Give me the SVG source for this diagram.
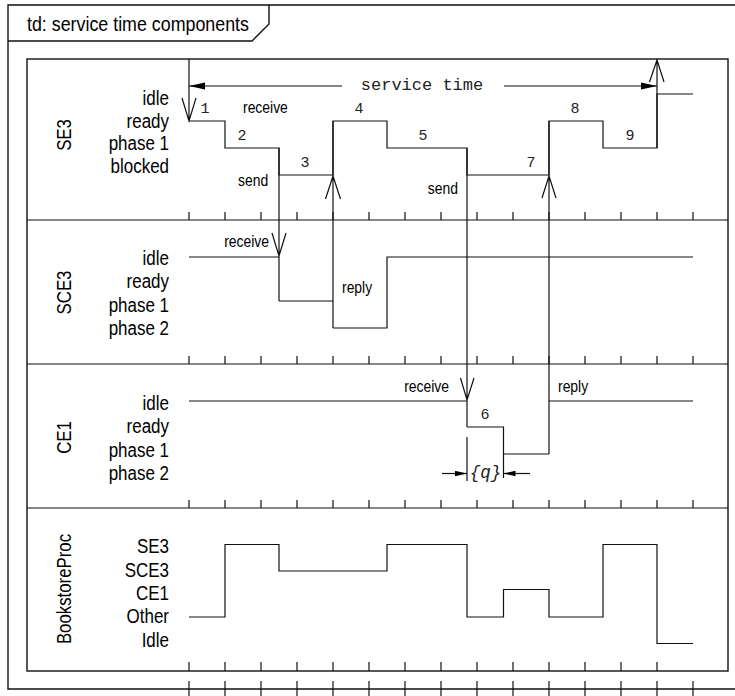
<svg xmlns="http://www.w3.org/2000/svg" width="735" height="696" viewBox="0 0 735 696">
<style>
.ln{fill:none;stroke:#111;stroke-width:1.2}
.fr{fill:none;stroke:#111;stroke-width:1.4}
.st{font-family:"Liberation Sans",Arial,sans-serif;font-size:19.5px;fill:#000;text-anchor:end}
.lane{font-family:"Liberation Sans",Arial,sans-serif;font-size:20.5px;fill:#000;text-anchor:middle}
.sm{font-family:"Liberation Sans",Arial,sans-serif;font-size:16px;fill:#000}
.mono{font-family:"Liberation Mono","Courier New",monospace;font-size:15px;fill:#222;text-anchor:middle}
.title{font-family:"Liberation Sans",Arial,sans-serif;font-size:20.5px;fill:#000}
</style>
<defs>
<marker id="fa" markerUnits="userSpaceOnUse" markerWidth="18" markerHeight="10" refX="16" refY="4" orient="auto"><path d="M0,0.6 L16,4 L0,7.4 z" fill="#000"/></marker>
<marker id="fs" markerUnits="userSpaceOnUse" markerWidth="14" markerHeight="8" refX="12" refY="3" orient="auto"><path d="M0,0.3 L12,3 L0,5.7 z" fill="#000"/></marker>
</defs>
<rect width="735" height="696" fill="#fff"/>
<g id="frame">
<path class="fr" d="M735,5 H8 V689 H735"/>
<path class="fr" d="M8,41 H252 L269,24 V5"/>
<text class="title" transform="translate(27,31) scale(0.87,1)">td: service time components</text>
<rect class="fr" x="27" y="59" width="701" height="612"/>
<path class="ln" d="M189,681 V696 M225,681 V696 M261,681 V696 M297,681 V696 M333,681 V696 M369,681 V696 M405,681 V696 M441,681 V696 M477,681 V696 M513,681 V696 M549,681 V696 M585,681 V696 M621,681 V696 M657,681 V696 M693,681 V696"/>
</g>
<g id="SE3">
<text class="lane" transform="translate(70.5,135) rotate(-90) scale(0.82,1)">SE3</text>
<text class="st" transform="translate(169,105) scale(0.87,1)">idle</text>
<text class="st" transform="translate(169,127.5) scale(0.87,1)">ready</text>
<text class="st" transform="translate(169,150) scale(0.87,1)">phase 1</text>
<text class="st" transform="translate(169,172.5) scale(0.87,1)">blocked</text>
<path class="ln" d="M189,121 H225 V148 H279 V175 H333 V121 H387 V148 H467 V175 H549 V121 H603 V148 H657 V94 H693"/>
<path class="ln" d="M189,212 V220 M225,212 V220 M261,212 V220 M297,212 V220 M333,212 V220 M369,212 V220 M405,212 V220 M441,212 V220 M477,212 V220 M513,212 V220 M549,212 V220 M585,212 V220 M621,212 V220 M657,212 V220 M693,212 V220"/>
<text class="mono" x="205" y="113">1</text>
<text class="mono" x="242" y="140">2</text>
<text class="mono" x="305" y="167">3</text>
<text class="mono" x="359" y="113">4</text>
<text class="mono" x="423" y="140">5</text>
<text class="mono" x="531" y="167">7</text>
<text class="mono" x="575" y="113">8</text>
<text class="mono" x="630" y="140">9</text>
<text class="sm" transform="translate(243,113) scale(0.87,1)">receive</text>
<text class="sm" transform="translate(238,186) scale(0.87,1)">send</text>
<text class="sm" text-anchor="end" transform="translate(458,194) scale(0.87,1)">send</text>
<line class="ln" x1="342" y1="86" x2="189" y2="86" marker-end="url(#fa)"/>
<line class="ln" x1="504" y1="86" x2="657" y2="86" marker-end="url(#fa)"/>
<text class="mono" x="422" y="90" style="font-size:17px">service time</text>
</g>
<g id="SCE3">
<line class="ln" x1="27" y1="220" x2="728" y2="220"/>
<text class="lane" transform="translate(70.5,292.5) rotate(-90) scale(0.82,1)">SCE3</text>
<text class="st" transform="translate(169,265) scale(0.87,1)">idle</text>
<text class="st" transform="translate(169,288) scale(0.87,1)">ready</text>
<text class="st" transform="translate(169,311.5) scale(0.87,1)">phase 1</text>
<text class="st" transform="translate(169,335) scale(0.87,1)">phase 2</text>
<path class="ln" d="M189,257 H279 M279,301 H333 M333,328 H387 V257 H693"/>
<path class="ln" d="M189,356 V364 M225,356 V364 M261,356 V364 M297,356 V364 M333,356 V364 M369,356 V364 M405,356 V364 M441,356 V364 M477,356 V364 M513,356 V364 M549,356 V364 M585,356 V364 M621,356 V364 M657,356 V364 M693,356 V364"/>
<text class="sm" text-anchor="end" transform="translate(269,247) scale(0.87,1)">receive</text>
<text class="sm" transform="translate(342,293) scale(0.87,1)">reply</text>
</g>
<g id="CE1">
<line class="ln" x1="27" y1="364" x2="728" y2="364"/>
<text class="lane" transform="translate(70.5,437.5) rotate(-90) scale(0.82,1)">CE1</text>
<text class="st" transform="translate(169,410) scale(0.87,1)">idle</text>
<text class="st" transform="translate(169,433.3) scale(0.87,1)">ready</text>
<text class="st" transform="translate(169,456.7) scale(0.87,1)">phase 1</text>
<text class="st" transform="translate(169,479.5) scale(0.87,1)">phase 2</text>
<path class="ln" d="M189,401 H467 M467,427 H503.5 V454 H549 M549,401 H693"/>
<path class="ln" d="M189,500 V508 M225,500 V508 M261,500 V508 M297,500 V508 M333,500 V508 M369,500 V508 M405,500 V508 M441,500 V508 M477,500 V508 M513,500 V508 M549,500 V508 M585,500 V508 M621,500 V508 M657,500 V508 M693,500 V508"/>
<text class="mono" x="485" y="419">6</text>
<text class="sm" text-anchor="end" transform="translate(449,392) scale(0.87,1)">receive</text>
<text class="sm" transform="translate(558,392) scale(0.87,1)">reply</text>
<path class="ln" d="M467,437 V481 M503.5,454 V478"/>
<line class="ln" x1="442" y1="473.5" x2="467" y2="473.5" marker-end="url(#fs)"/>
<line class="ln" x1="530" y1="473.5" x2="503.5" y2="473.5" marker-end="url(#fs)"/>
<text class="mono" x="485.5" y="477.5" style="font-style:italic;font-size:17.5px">{q}</text>
</g>
<g id="BookstoreProc">
<line class="ln" x1="27" y1="508" x2="728" y2="508"/>
<text class="lane" transform="translate(70.5,589) rotate(-90) scale(0.82,1)">BookstoreProc</text>
<text class="st" transform="translate(169,553.3) scale(0.87,1)">SE3</text>
<text class="st" transform="translate(169,576.7) scale(0.87,1)">SCE3</text>
<text class="st" transform="translate(169,600) scale(0.87,1)">CE1</text>
<text class="st" transform="translate(169,623.3) scale(0.87,1)">Other</text>
<text class="st" transform="translate(169,646.7) scale(0.87,1)">Idle</text>
<path class="ln" d="M189,617 H225 V544.5 H279 V571 H387 V544.5 H467 V617 H503.5 V589.5 H549 V617 H603 V544.5 H657 V643.5 H693"/>
<path class="ln" d="M189,662 V671 M225,662 V671 M261,662 V671 M297,662 V671 M333,662 V671 M369,662 V671 M405,662 V671 M441,662 V671 M477,662 V671 M513,662 V671 M549,662 V671 M585,662 V671 M621,662 V671 M657,662 V671"/>
</g>
<g id="connectors">
<path class="ln" d="M189,59 V121 M182,98 L189,121 L196,98"/>
<path class="ln" d="M657,148 V59 M649.5,82 L657,60 L664,82"/>
<path class="ln" d="M279,148 V301 M272,233 L279,256 L286,233"/>
<path class="ln" d="M333,328 V121 M325.5,199 L333,176 L340.5,199"/>
<path class="ln" d="M467,148 V427 M460.5,378 L467,400 L474,378"/>
<path class="ln" d="M549,454 V121 M542,198 L549,176 L556,198"/>
</g>
</svg>
